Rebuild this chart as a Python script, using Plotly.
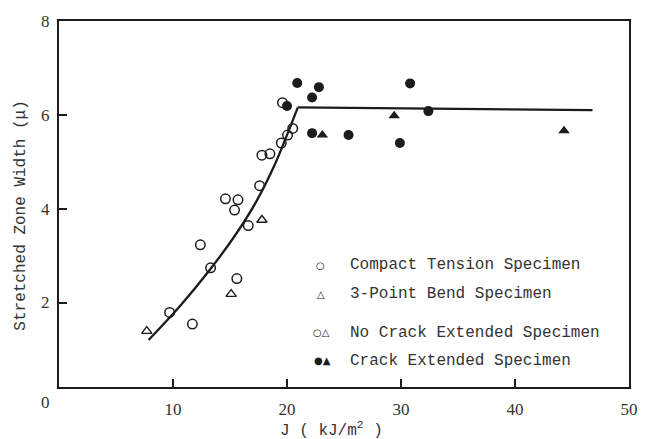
import plotly.graph_objects as go

# Data
ct_open_x = [9.7, 11.7, 13.3, 12.4, 15.6, 16.6, 15.4, 14.6, 15.7, 17.6, 17.8, 18.5, 19.5, 20.05, 20.5, 19.6]
ct_open_y = [1.79, 1.54, 2.74, 3.23, 2.51, 3.64, 3.97, 4.21, 4.19, 4.49, 5.14, 5.17, 5.40, 5.57, 5.71, 6.26]
tpb_open_x = [7.7, 15.1, 17.8]
tpb_open_y = [1.39, 2.18, 3.76]
ct_filled_x = [20.0, 20.9, 22.2, 22.8, 22.2, 25.4, 30.8, 32.4, 29.9]
ct_filled_y = [6.19, 6.68, 6.37, 6.59, 5.61, 5.57, 6.67, 6.08, 5.40]
tpb_filled_x = [23.1, 29.4, 44.3]
tpb_filled_y = [5.57, 5.98, 5.66]
curve_x = [7.86, 10.6, 13.3, 15.5, 17.3, 19.0, 20.95]
curve_y = [1.20, 1.92, 2.72, 3.45, 4.15, 4.98, 6.16]
plateau_x = [20.95, 46.8]
plateau_y = [6.16, 6.10]
x_ticks = [10, 20, 30, 40, 50]
y_ticks = [2, 4, 6, 8]

INK = "#1c1c1c"
TXT = "#333333"
MONO = "Liberation Mono, Courier New, monospace"
SERIF = "Liberation Serif, Times New Roman, serif"

fig = go.Figure()
fig.add_trace(go.Scatter(x=curve_x, y=curve_y, mode="lines",
                         line=dict(color=INK, width=2.3, shape="spline", smoothing=0.8), showlegend=False))
fig.add_trace(go.Scatter(x=plateau_x, y=plateau_y, mode="lines", line=dict(color=INK, width=2.3), showlegend=False))
fig.add_trace(go.Scatter(x=ct_open_x, y=ct_open_y, mode="markers",
                         marker=dict(symbol="circle-open", size=9.5, color=INK, line=dict(width=1.5)), showlegend=False))
fig.add_trace(go.Scatter(x=tpb_open_x, y=tpb_open_y, mode="markers",
                         marker=dict(symbol="triangle-up-open", size=9, color=INK, line=dict(width=1.4)), showlegend=False))
fig.add_trace(go.Scatter(x=ct_filled_x, y=ct_filled_y, mode="markers",
                         marker=dict(symbol="circle", size=10, color=INK), showlegend=False))
fig.add_trace(go.Scatter(x=tpb_filled_x, y=tpb_filled_y, mode="markers",
                         marker=dict(symbol="triangle-up", size=10, color=INK), showlegend=False))

axis_common = dict(showline=True, linecolor=INK, linewidth=2, mirror=True, showgrid=False, zeroline=False,
                   ticks="inside", ticklen=8, tickwidth=2, tickcolor=INK,
                   tickfont=dict(family=SERIF, size=17, color=TXT))
fig.update_xaxes(range=[0, 50], tickvals=x_ticks, ticklabelstandoff=6, **axis_common)
fig.update_yaxes(range=[0.2, 8.0], tickvals=y_ticks, ticklabelstandoff=4, **axis_common)


def px_x(p):
    return (p - 59) / 576.0


def px_y(p):
    return (386.7 - p) / 371.2


ann = []
ann.append(dict(text="0", x=px_x(45), y=px_y(402), xref="paper", yref="paper", showarrow=False,
                font=dict(family=SERIF, size=17, color=TXT), xanchor="center", yanchor="middle"))
ann.append(dict(text="Stretched Zone Width (μ)", x=px_x(20.5), y=px_y(213), xref="paper", yref="paper",
                showarrow=False, textangle=-90, font=dict(family=MONO, size=16, color=TXT),
                xanchor="center", yanchor="middle"))
ann.append(dict(text="J ( kJ/m<sup>2</sup> )", x=px_x(334), y=px_y(430), xref="paper", yref="paper",
                showarrow=False, font=dict(family=MONO, size=16, color=TXT), xanchor="center", yanchor="middle"))

legend_rows = [
    ("○", 323, 263.3, "Compact Tension Specimen"),
    ("△", 324, 292.7, "3-Point Bend Specimen"),
    ("○△", 324, 331.7, "No Crack Extended Specimen"),
    ("●▲", 325, 360.0, "Crack Extended Specimen"),
]
for sym, sx, sy, label in legend_rows:
    ann.append(dict(text=sym, x=px_x(sx), y=px_y(sy), xref="paper", yref="paper", showarrow=False,
                    font=dict(family="DejaVu Sans", size=10, color=INK), xanchor="center", yanchor="middle"))
    ann.append(dict(text=label, x=px_x(351), y=px_y(sy), xref="paper", yref="paper", showarrow=False,
                    font=dict(family=MONO, size=16, color=TXT), xanchor="left", yanchor="middle"))

fig.update_layout(width=650, height=439, margin=dict(l=59, r=15, t=15, b=52),
                  paper_bgcolor="white", plot_bgcolor="white", annotations=ann, showlegend=False)
fig.write_html("out.html")
